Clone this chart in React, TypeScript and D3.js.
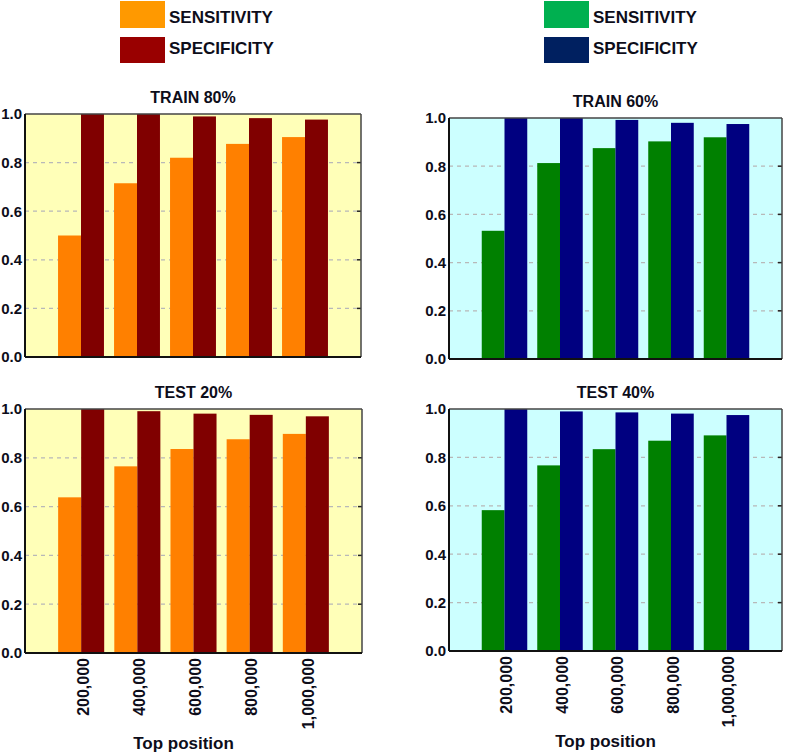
import React from "react";
import * as d3 from "d3";

const positions = [200000, 400000, 600000, 800000, 1000000];
const positionLabels = ["200,000", "400,000", "600,000", "800,000", "1,000,000"];
const yTicks = [0, 0.2, 0.4, 0.6, 0.8, 1.0];

const train80Sens = [0.50, 0.715, 0.82, 0.877, 0.905];
const train80Spec = [1.0, 1.0, 0.99, 0.983, 0.977];
const test20Sens = [0.638, 0.765, 0.836, 0.876, 0.898];
const test20Spec = [1.0, 0.991, 0.981, 0.976, 0.970];
const train60Sens = [0.532, 0.813, 0.875, 0.903, 0.92];
const train60Spec = [1.0, 1.0, 0.992, 0.98, 0.975];
const test40Sens = [0.582, 0.767, 0.834, 0.869, 0.891];
const test40Spec = [1.0, 0.99, 0.986, 0.981, 0.975];

const FONT = "'Liberation Sans', Arial, sans-serif";
const TEXT = "#0d0d1a";

type PanelProps = {
  title: string;
  sens: number[];
  spec: number[];
  left: number;
  right: number;
  top: number;
  bottom: number;
  bg: string;
  sensColor: string;
  specColor: string;
  showX: boolean;
};

function Panel(p: PanelProps) {
  const x = d3.scaleLinear().domain([0, 1200000]).range([p.left, p.right]);
  const y = d3.scaleLinear().domain([0, 1]).range([p.bottom, p.top]);
  const bw = 0.41 * 200000;
  return (
    <g>
      <rect x={p.left} y={p.top} width={p.right - p.left} height={p.bottom - p.top} fill={p.bg} />
      {yTicks.filter((t) => t > 0 && t < 1).map((t) => (
        <g key={t}>
          <line x1={p.left} x2={p.right} y1={y(t)} y2={y(t)} stroke="#b8b8b8" strokeWidth={1.2} strokeDasharray="4,4" />
          <line x1={p.right - 4} x2={p.right} y1={y(t)} y2={y(t)} stroke="#222" strokeWidth={1.5} />
        </g>
      ))}
      {positions.map((pos, i) => (
        <g key={pos}>
          <rect x={x(pos - bw)} y={y(p.sens[i])} width={x(pos) - x(pos - bw)} height={y(0) - y(p.sens[i])} fill={p.sensColor} />
          <rect x={x(pos)} y={y(p.spec[i])} width={x(pos + bw) - x(pos)} height={y(0) - y(p.spec[i])} fill={p.specColor} />
        </g>
      ))}
      <line x1={p.left} x2={p.right} y1={p.top} y2={p.top} stroke="#444" strokeWidth={1.5} />
      <line x1={p.right} x2={p.right} y1={p.top} y2={p.bottom} stroke="#444" strokeWidth={1.5} />
      <line x1={p.left} x2={p.left} y1={p.top} y2={p.bottom} stroke="#111" strokeWidth={2} />
      <line x1={p.left} x2={p.right} y1={p.bottom} y2={p.bottom} stroke="#111" strokeWidth={2} />
      {yTicks.map((t) => (
        <text key={t} x={p.left - 3} y={y(t)} dy="0.36em" textAnchor="end" fontFamily={FONT} fontWeight="bold" fontSize={15} fill={TEXT}>
          {d3.format(".1f")(t)}
        </text>
      ))}
      <text x={(p.left + p.right) / 2} y={p.top - 11} textAnchor="middle" fontFamily={FONT} fontWeight="bold" fontSize={16} fill={TEXT}>
        {p.title}
      </text>
      {p.showX && positions.map((pos, i) => (
        <text key={pos} transform={`translate(${x(pos) + 2},${p.bottom + 5}) rotate(-90)`} dy="0.36em" textAnchor="end" fontFamily={FONT} fontWeight="bold" fontSize={16} fill={TEXT}>
          {positionLabels[i]}
        </text>
      ))}
      {p.showX && (
        <text x={(p.left + p.right) / 2 - 10} y={p.bottom + 96} textAnchor="middle" fontFamily={FONT} fontWeight="bold" fontSize={17} fill={TEXT}>
          Top position
        </text>
      )}
    </g>
  );
}

function Legend({ x, c1, c2 }: { x: number; c1: string; c2: string }) {
  return (
    <g>
      <rect x={x} y={1} width={45} height={27} fill={c1} />
      <rect x={x} y={37} width={45} height={26} fill={c2} />
      <text x={x + 49} y={17} dy="0.36em" fontFamily={FONT} fontWeight="bold" fontSize={17} fill={TEXT}>SENSITIVITY</text>
      <text x={x + 49} y={48} dy="0.36em" fontFamily={FONT} fontWeight="bold" fontSize={17} fill={TEXT}>SPECIFICITY</text>
    </g>
  );
}

export default function App() {
  const yellow = "#FFFFB8";
  const cyan = "#CCFFFF";
  return (
    <svg width={787} height={755} style={{ position: "absolute", left: 0, top: 0, background: "#fff" }}>
      <Legend x={120} c1="#FF9900" c2="#990000" />
      <Legend x={544} c1="#00B050" c2="#002060" />
      <Panel title="TRAIN 80%" sens={train80Sens} spec={train80Spec} left={25} right={361} top={114} bottom={357} bg={yellow} sensColor="#FF8000" specColor="#800000" showX={false} />
      <Panel title="TRAIN 60%" sens={train60Sens} spec={train60Spec} left={449} right={782} top={118} bottom={359} bg={cyan} sensColor="#008000" specColor="#000080" showX={false} />
      <Panel title="TEST 20%" sens={test20Sens} spec={test20Spec} left={25} right={362} top={409} bottom={653} bg={yellow} sensColor="#FF8000" specColor="#800000" showX={true} />
      <Panel title="TEST 40%" sens={test40Sens} spec={test40Spec} left={449} right={782} top={409} bottom={651} bg={cyan} sensColor="#008000" specColor="#000080" showX={true} />
    </svg>
  );
}
